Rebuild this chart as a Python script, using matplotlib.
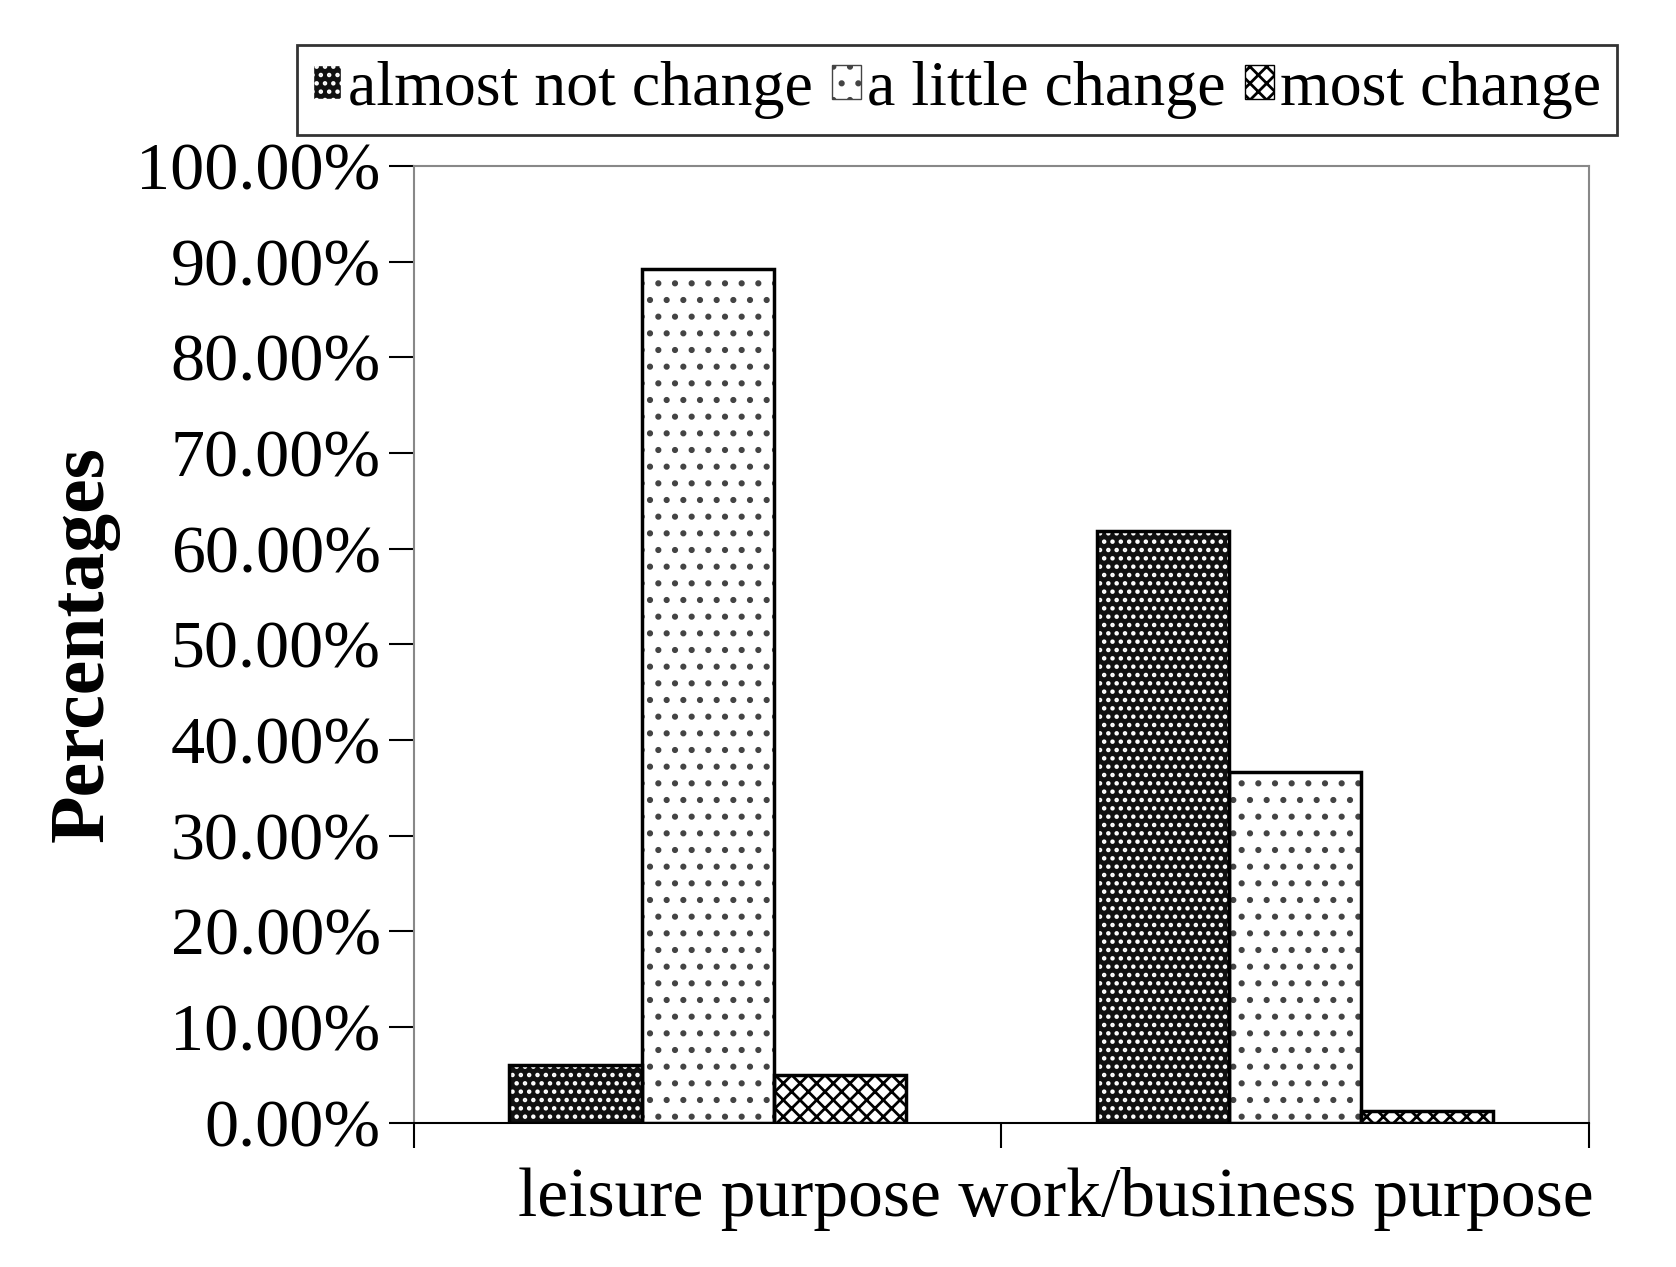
import matplotlib.pyplot as plt
import numpy as np
from matplotlib.ticker import FuncFormatter
from matplotlib.patches import Patch

plt.rcParams['font.family'] = ['Liberation Serif', 'DejaVu Serif']
plt.rcParams['hatch.linewidth'] = 2.0

categories = ['leisure purpose', 'work/business purpose']
series = ['almost not change', 'a little change', 'most change']
almost_not = [6.0, 61.8]
a_little = [89.2, 36.6]
most = [5.0, 1.2]

fig = plt.figure(figsize=(16.76, 12.67), dpi=100)
ax = fig.add_axes([0.247, 0.114, 0.701, 0.755])

x = np.arange(len(categories))
w = 0.225
b1 = ax.bar(x - w, almost_not, w, facecolor='#111111', edgecolor='white', hatch='..', lw=0)
b2 = ax.bar(x, a_little, w, facecolor='white', edgecolor='#444444', hatch='.', lw=0)
b3 = ax.bar(x + w, most, w, facecolor='white', edgecolor='black', hatch='xx', lw=0)
for bars in (b1, b2, b3):
    for r in bars:
        ax.add_patch(plt.Rectangle(r.get_xy(), r.get_width(), r.get_height(),
                                   fill=False, edgecolor='black', lw=2.5))

ax.set_xlim(-0.5, 1.5)
ax.set_ylim(0, 100)
ax.set_yticks(np.arange(0, 101, 10))
ax.yaxis.set_major_formatter(FuncFormatter(lambda v, p: f'{v:.2f}%'))
ax.tick_params(axis='y', labelsize=49, length=18, width=1.5, direction='out', pad=6)
ax.set_xticks([-0.5, 0.5, 1.5])
ax.set_xticklabels([])
ax.tick_params(axis='x', length=18, width=1.5)
fig.text(0.63, 0.04, '   '.join(['leisure purpose', 'work/business purpose']).replace('   ', ' '),
         fontsize=50, ha='center')
for s in ax.spines.values():
    s.set_color('#888888')
    s.set_linewidth(1.5)
ax.spines['bottom'].set_color('black')
ax.set_ylabel('Percentages', fontsize=56, fontweight='bold', labelpad=12)

handles = [Patch(facecolor='#111111', edgecolor='white', hatch='..'),
           Patch(facecolor='white', edgecolor='#444444', hatch='.'),
           Patch(facecolor='white', edgecolor='black', hatch='xx')]
leg = fig.legend(handles, series, loc='upper left', bbox_to_anchor=(0.158, 0.99),
                 ncol=3, fontsize=46, frameon=True, fancybox=False, edgecolor='black',
                 handlelength=0.45, handleheight=0.45, handletextpad=0.1, columnspacing=0.3,
                 borderpad=0.25)
leg.get_frame().set_linewidth(2)

fig.savefig('out.png')
